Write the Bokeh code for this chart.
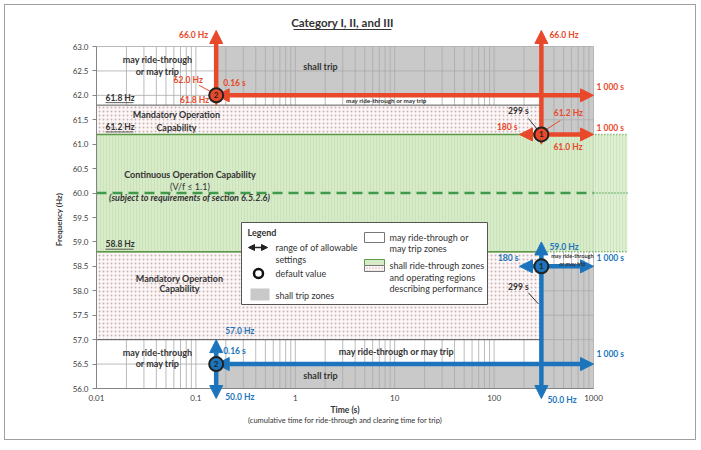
import math
from bokeh.plotting import figure
from bokeh.models import Range1d, FixedTicker, PrintfTickFormatter, Arrow, NormalHead
from bokeh.core.properties import value
from bokeh.embed import file_html
from bokeh.resources import INLINE

# ---------------- data ----------------
x_ticks = [0.01, 0.1, 1, 10, 100, 1000]
y_ticks = [56.0, 56.5, 57.0, 57.5, 58.0, 58.5, 59.0, 59.5, 60.0, 60.5, 61.0, 61.5, 62.0, 62.5, 63.0]
x_grid = [0.01, 0.02, 0.03, 0.04, 0.05, 0.06, 0.07, 0.08, 0.09,
          0.1, 0.2, 0.3, 0.4, 0.5, 0.6, 0.7, 0.8, 0.9,
          1, 2, 3, 4, 5, 6, 7, 8, 9,
          10, 20, 30, 40, 50, 60, 70, 80, 90,
          100, 200, 300, 400, 500, 600, 700, 800, 900, 1000]

# "shall trip" zones (time s, frequency Hz)
trip_t0 = [0.16, 299, 299, 0.16]
trip_t1 = [1000, 1000, 1000, 299]
trip_f0 = [62.0, 61.2, 56.0, 56.0]
trip_f1 = [63.0, 62.0, 58.5, 56.5]

# mandatory operation zones
mand_t0 = [0.01, 0.01]
mand_t1 = [299, 299]
mand_f0 = [61.2, 57.0]
mand_f1 = [61.8, 58.8]

# continuous operation zone
cont_t = [0.01, 1000]
cont_f = [58.8, 61.2]
nominal_f = 60.0
bound_f = [61.8, 61.2, 58.8]

# adjustable trip settings: OF2, OF1, UF1, UF2
set_num = ["2", "1", "1", "2"]
set_kind = ["over", "over", "under", "under"]
set_t = [0.16, 299, 299, 0.16]
set_f = [62.0, 61.2, 58.5, 56.5]
set_tmin = [0.16, 180, 180, 0.16]
set_tmax = [1000, 1000, 1000, 1000]
set_fmin = [61.8, 61.0, 50.0, 50.0]
set_fmax = [66.0, 66.0, 59.0, 57.0]

# ---------------- geometry / style ----------------
FONT = "Lato"
RED = "#e8492a"
BLUE = "#1c75bc"
DARK = "#333333"
GRAY_FILL = "#c9c9c9"
GRID = "#a9a9a9"
AXIS = "#858585"
GREEN_FILL = "#d7ebc9"
GREEN_HATCH = "#c6e0b3"
GREEN_LINE = "#5d9a45"
DASH_GREEN = "#3f9b4b"
DOT_BG = "#fcf6f6"
DOT_COLOR = "#c9b3b3"

PX_DEC = 99.4          # pixels per decade of time
PX_HZ = 342 / 7        # pixels per Hz
X0_PX, Y63_PX = 96, 46  # page position of 0.01 s and 63 Hz
CX, CY = 5, 5           # page position of the canvas origin (margin + border)
W, H = 692, 436
FL, FR, FT, FB = 96, 650, 10, 428   # frame edges on the page


def tx(px):
    return 0.01 * 10 ** ((px - X0_PX) / PX_DEC)


def fy(py):
    return 63.0 - (py - Y63_PX) / PX_HZ


def shift(t, f, dx=0.0, dy=0.0):
    return t * 10 ** (dx / PX_DEC), f - dy / PX_HZ


F_HI = fy(30)    # arrow tips drawn at the chart's edge
F_LO = fy(398)
T_EXT = tx(627)


def fmt_hz(v):
    return f"{v:.1f} Hz"


def fmt_s(v):
    if v >= 1000:
        return f"{v:,.0f}".replace(",", " ") + " s"
    return f"{v:g} s"


p = figure(width=W, height=H, x_axis_type="log",
           x_range=Range1d(tx(FL), tx(FR)), y_range=Range1d(fy(FB), fy(FT)),
           output_backend="svg", toolbar_location=None,
           min_border_left=FL - CX, min_border_right=CX + W - FR,
           min_border_top=FT - CY, min_border_bottom=CY + H - FB)
p.outline_line_color = None
p.xgrid.visible = False
p.ygrid.visible = False
p.styles = {"border": "1px solid #a0a0a0", "margin-left": "4px", "margin-top": "4px"}

# axes
xa = p.xaxis[0]
xa.ticker = FixedTicker(ticks=x_ticks, minor_ticks=[])
xa.formatter = PrintfTickFormatter(format="%g")
xa.axis_line_color = None
xa.major_tick_line_color = None
xa.minor_tick_line_color = None
xa.major_tick_out = 0
xa.major_tick_in = 0
xa.major_label_standoff = -(FB - 394)
xa.major_label_text_font = FONT
xa.major_label_text_font_size = "8px"
xa.major_label_text_color = "#404040"

ya = p.yaxis[0]
ya.ticker = FixedTicker(ticks=y_ticks, minor_ticks=[])
ya.formatter = PrintfTickFormatter(format="%.1f")
ya.bounds = (y_ticks[0], y_ticks[-1])
ya.axis_line_color = AXIS
ya.major_tick_line_color = AXIS
ya.minor_tick_line_color = None
ya.major_tick_out = 4
ya.major_tick_in = 0
ya.major_label_standoff = 4
ya.major_label_text_font = FONT
ya.major_label_text_font_size = "8px"
ya.major_label_text_color = "#404040"
ya.axis_label = "Frequency (Hz)"
ya.axis_label_text_font = FONT
ya.axis_label_text_font_size = "8px"
ya.axis_label_text_font_style = "bold"
ya.axis_label_text_color = DARK
ya.axis_label_standoff = 6

# shall trip zones
p.quad(left=trip_t0, right=trip_t1, bottom=trip_f0, top=trip_f1,
       fill_color=GRAY_FILL, line_color=None)

# grid
p.segment(x0=x_grid, y0=[y_ticks[0]] * len(x_grid), x1=x_grid, y1=[y_ticks[-1]] * len(x_grid),
          line_color=GRID, line_width=0.8)
p.segment(x0=[x_ticks[0]] * len(y_ticks), y0=y_ticks, x1=[x_ticks[-1]] * len(y_ticks), y1=y_ticks,
          line_color=GRID, line_width=0.8)
p.segment(x0=[x_ticks[0]], y0=[y_ticks[0]], x1=[x_ticks[-1]], y1=[y_ticks[0]],
          line_color=AXIS, line_width=1)

# mandatory operation
p.quad(left=mand_t0, right=mand_t1, bottom=mand_f0, top=mand_f1,
       fill_color=DOT_BG, hatch_pattern="dot", hatch_color=DOT_COLOR, hatch_scale=4,
       hatch_weight=1, line_color="#5a5a5a", line_width=1)

# continuous operation
p.quad(left=[cont_t[0]], right=[cont_t[1]], bottom=[cont_f[0]], top=[cont_f[1]],
       fill_color=GREEN_FILL, hatch_pattern="vertical_line", hatch_color=GREEN_HATCH,
       hatch_scale=3, hatch_weight=0.7, line_color=None)
p.quad(left=[cont_t[1]], right=[T_EXT], bottom=[cont_f[0]], top=[cont_f[1]],
       fill_color=GREEN_FILL, fill_alpha=0.8, hatch_pattern="vertical_line", hatch_color=GREEN_HATCH,
       hatch_scale=3, hatch_weight=0.7, line_color=None)
p.segment(x0=[cont_t[0]] * 2, y0=cont_f, x1=[mand_t1[0]] * 2, y1=cont_f,
          line_color=GREEN_LINE, line_width=1.5)
p.segment(x0=[mand_t1[0]] * 2, y0=cont_f, x1=[T_EXT] * 2, y1=cont_f,
          line_color=GREEN_LINE, line_width=1.5, line_dash="1 2")
p.line(x=cont_t, y=[nominal_f] * 2, line_color=DASH_GREEN, line_width=2.5, line_dash="10 6")
p.line(x=[cont_t[1], T_EXT], y=[nominal_f] * 2, line_color=DASH_GREEN, line_width=1.5, line_dash="1 2")


def txt(x, y, s, size=9, style="bold", color=DARK, align="center", level="glyph"):
    p.text(x=[x], y=[y], text=[s], text_font=value(FONT), text_font_size=f"{size}px",
           text_font_style=style, text_color=color, text_align=align,
           text_baseline="middle", level=level)


def lead(a, b, color=DARK):
    p.segment(x0=[a[0]], y0=[a[1]], x1=[b[0]], y1=[b[1]], line_color=color, line_width=1)


# title
txt(tx(342), fy(22), "Category I, II, and III", size=11.5)
p.segment(x0=[tx(293)], y0=[fy(29)], x1=[tx(391)], y1=[fy(29)], line_color=DARK, line_width=1)

# zone texts
txt(tx(157), fy(59), "may ride-through")
txt(tx(157), fy(71), "or may trip")
txt(tx(320), fy(66), "shall trip")
txt(tx(176), fy(114), "Mandatory Operation")
txt(tx(176), fy(127), "Capability")
txt(tx(386), fy(99.5), "may ride-through or may trip", size=6.3)
txt(tx(189.5), fy(174), "Continuous Operation Capability")
txt(tx(189.5), fy(186), "(V/f \u2264 1.1)", style="normal")
txt(tx(189), fy(197), "(subject to requirements of section 6.5.2.6)", style="bold italic")
txt(tx(179), fy(278), "Mandatory Operation")
txt(tx(179), fy(288), "Capability")
txt(tx(572), fy(255), "may ride-through", size=5.5, level="overlay")
txt(tx(572), fy(263), "or may trip", size=5.5, level="overlay")
txt(tx(157), fy(352), "may ride-through")
txt(tx(157), fy(363), "or may trip")
txt(tx(396), fy(351), "may ride-through or may trip")
txt(tx(320), fy(375), "shall trip")

# boundary labels (underlined)
for f in bound_f:
    xl, yl = shift(tx(105), f, 0, -7.5)
    txt(xl, yl, fmt_hz(f), size=8.5, align="left")
    x1, yu = shift(tx(105), f, 28, -2.5)
    p.segment(x0=[xl], y0=[yu], x1=[x1], y1=[yu], line_color=DARK, line_width=0.8)

# axis titles
txt(math.sqrt(x_ticks[0] * x_ticks[-1]), fy(409), "Time (s)", size=8.5)
txt(math.sqrt(x_ticks[0] * x_ticks[-1]), fy(420),
    "(cumulative time for ride-through and clearing time for trip)", size=7.5, style="normal")

# ---------------- legend ----------------
p.quad(left=[tx(241)], right=[tx(487)], bottom=[fy(304)], top=[fy(222)],
       fill_color="white", line_color="#555555", line_width=1)
txt(tx(247), fy(232), "Legend", size=9, align="left")
p.add_layout(Arrow(start=NormalHead(size=6, fill_color="#222222", line_color="#222222"),
                   end=NormalHead(size=6, fill_color="#222222", line_color="#222222"),
                   x_start=tx(248), y_start=fy(247), x_end=tx(267), y_end=fy(247),
                   line_color="#222222", line_width=1.5))
txt(tx(275), fy(247), "range of of allowable", style="normal", align="left")
txt(tx(275), fy(259), "settings", style="normal", align="left")
p.scatter(x=[tx(258)], y=[fy(273)], size=9, fill_color="white", line_color="#111111", line_width=2.5)
txt(tx(275), fy(273), "default value", style="normal", align="left")
p.quad(left=[tx(250)], right=[tx(269)], bottom=[fy(300)], top=[fy(288)],
       fill_color=GRAY_FILL, line_color=None)
txt(tx(275), fy(295), "shall trip zones", style="normal", align="left")
p.quad(left=[tx(364)], right=[tx(384)], bottom=[fy(242)], top=[fy(232)],
       fill_color="white", line_color="#777777", line_width=1)
txt(tx(389), fy(237), "may ride-through or", style="normal", align="left")
txt(tx(389), fy(248), "may trip zones", style="normal", align="left")
p.quad(left=[tx(364)], right=[tx(384)], bottom=[fy(265)], top=[fy(259)],
       fill_color=GREEN_FILL, line_color=GREEN_LINE, line_width=1)
p.quad(left=[tx(364)], right=[tx(384)], bottom=[fy(271)], top=[fy(265)],
       fill_color=DOT_BG, hatch_pattern="dot", hatch_color=DOT_COLOR, hatch_scale=3,
       line_color="#777777", line_width=1)
txt(tx(389), fy(265), "shall ride-through zones", style="normal", align="left")
txt(tx(389), fy(277), "and operating regions", style="normal", align="left")
txt(tx(389), fy(288), "describing performance", style="normal", align="left")

# ---------------- setting ranges ----------------
colors = [RED if k == "over" else BLUE for k in set_kind]
for i in range(len(set_t)):
    c = colors[i]
    y0 = max(set_fmin[i], F_LO)
    y1 = min(set_fmax[i], F_HI)
    p.add_layout(Arrow(start=NormalHead(size=13, fill_color=c, line_color=c),
                       end=NormalHead(size=13, fill_color=c, line_color=c),
                       x_start=set_t[i], y_start=y0, x_end=set_t[i], y_end=y1,
                       line_color=c, line_width=4.5))
    p.add_layout(Arrow(start=NormalHead(size=13, fill_color=c, line_color=c),
                       end=NormalHead(size=13, fill_color=c, line_color=c),
                       x_start=set_tmin[i], y_start=set_f[i], x_end=set_tmax[i], y_end=set_f[i],
                       line_color=c, line_width=4.5))

# value labels: (text, anchor t, anchor f, dx, dy, align, colour)
lbl = []
# OF2
lbl.append((fmt_hz(set_fmax[0]), set_t[0], F_HI, -8, 4, "right", colors[0]))
lbl.append((fmt_s(set_t[0]), set_t[0], set_f[0], 7, -12.7, "left", colors[0]))
lbl.append((fmt_hz(set_f[0]), set_t[0], set_f[0], -28, -15, "center", colors[0]))
lbl.append((fmt_hz(set_fmin[0]), set_t[0], set_fmin[0], -7, -5.5, "right", colors[0]))
lbl.append((fmt_s(set_tmax[0]), set_tmax[0], set_f[0], 3, -8, "left", colors[0]))
# OF1
lbl.append((fmt_hz(set_fmax[1]), set_t[1], F_HI, 8, 4, "left", colors[1]))
lbl.append((fmt_s(set_t[1]), set_t[1], set_f[1], -23, -23, "center", DARK))
lbl.append((fmt_hz(set_f[1]), set_t[1], set_f[1], 27, -21, "center", colors[1]))
lbl.append((fmt_s(set_tmin[1]), set_tmin[1], set_f[1], -2, -7, "right", colors[1]))
lbl.append((fmt_s(set_tmax[1]), set_tmax[1], set_f[1], 3, -6, "left", colors[1]))
lbl.append((fmt_hz(set_fmin[1]), set_t[1], set_fmin[1], 12, 3, "left", colors[1]))
# UF1
lbl.append((fmt_hz(set_fmax[2]), set_t[2], set_fmax[2], 8, 5, "left", colors[2]))
lbl.append((fmt_s(set_tmin[2]), set_tmin[2], set_f[2], -1, -8, "right", colors[2]))
lbl.append((fmt_s(set_tmax[2]), set_tmax[2], set_f[2], 3, -8, "left", colors[2]))
lbl.append((fmt_s(set_t[2]), set_t[2], set_f[2], -23, 20.5, "center", DARK))
lbl.append((fmt_hz(set_fmin[2]), set_t[2], F_LO, 6, 1, "left", colors[2]))
# UF2
lbl.append((fmt_hz(set_fmax[3]), set_t[3], set_fmax[3], 9, -9, "left", colors[3]))
lbl.append((fmt_s(set_t[3]), set_t[3], set_f[3], 7, -12.6, "left", colors[3]))
lbl.append((fmt_s(set_tmax[3]), set_tmax[3], set_f[3], 3, -10, "left", colors[3]))
lbl.append((fmt_hz(set_fmin[3]), set_t[3], F_LO, 9, -2, "left", colors[3]))

for s, t, f, dx, dy, al, c in lbl:
    xx, yy = shift(t, f, dx, dy)
    txt(xx, yy, s, size=8.5, color=c, align=al)

# leader lines
lead(shift(set_t[0], set_f[0], -17, -10), shift(set_t[0], set_f[0], -6, -4), colors[0])
lead(shift(set_t[1], set_f[1], -13, -16), shift(set_t[1], set_f[1], -4, -5))
lead(shift(set_t[1], set_f[1], 19, -14), shift(set_t[1], set_f[1], 5, -5), colors[1])
lead(shift(set_t[2], set_f[2], -13, 26.5), shift(set_t[2], set_f[2], -3, 37.5))

# default-value markers
p.scatter(x=set_t, y=set_f, size=14, fill_color=colors, line_color="#222222", line_width=2,
          level="overlay")
p.text(x=set_t, y=set_f, text=set_num, text_font=value(FONT), text_font_size="8px",
       text_font_style="bold", text_color="#222222", text_align="center",
       text_baseline="middle", level="overlay")

open("out.html", "w").write(file_html(p, INLINE))
